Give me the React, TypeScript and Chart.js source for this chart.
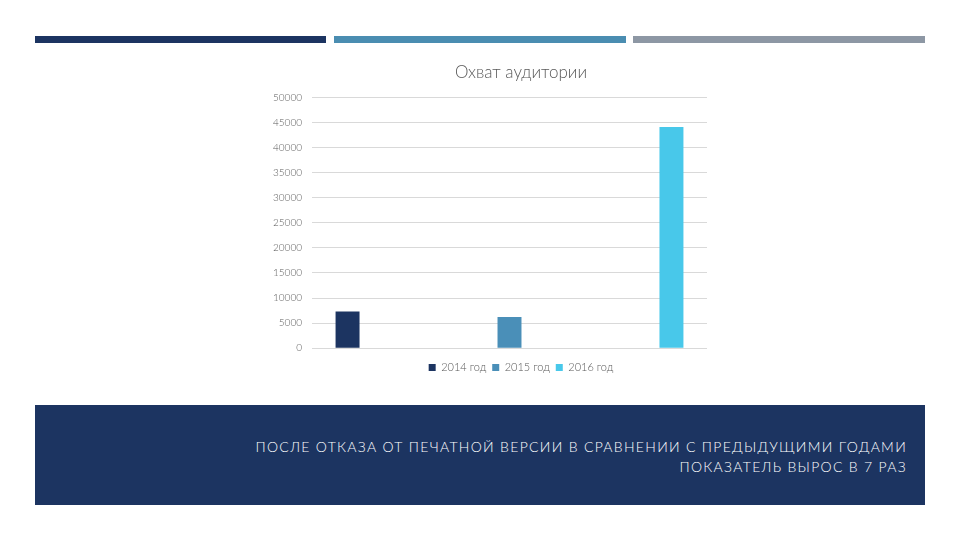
import React, { useEffect, useRef } from "react";
import { Chart, registerables } from "chart.js";

Chart.register(...registerables);

const chartTitle = "Охват аудитории";
const categories = [""];
const seriesNames = ["2014 год", "2015 год", "2016 год"];
const seriesValues = [7300, 6200, 44100];
const seriesColors = ["#1c3461", "#4a8fb8", "#48c8ea"];
const yTicks = { min: 0, max: 50000, step: 5000 };
const captionLines = [
  "ПОСЛЕ ОТКАЗА ОТ ПЕЧАТНОЙ ВЕРСИИ В СРАВНЕНИИ С ПРЕДЫДУЩИМИ ГОДАМИ",
  "ПОКАЗАТЕЛЬ ВЫРОС В 7 РАЗ",
];
const stripeColors = ["#1c3461", "#4a8db1", "#8d97a4"];

const FONT = "Lato, 'Open Sans', 'DejaVu Sans', sans-serif";

export default function App() {
  const ref = useRef<HTMLCanvasElement | null>(null);

  useEffect(() => {
    document.body.style.margin = "0";
    if (!ref.current) return;
    const chart = new Chart(ref.current, {
      type: "bar",
      data: {
        labels: categories,
        datasets: seriesNames.map((name, i) => ({
          label: name,
          data: [seriesValues[i]],
          backgroundColor: seriesColors[i],
          borderWidth: 0,
          categoryPercentage: 1.23,
          barPercentage: 0.148,
          yAxisID: "y",
        })),
      },
      options: {
        animation: false,
        responsive: false,
        maintainAspectRatio: false,
        layout: { padding: 0 },
        plugins: {
          title: {
            display: true,
            text: chartTitle,
            color: "#595959",
            font: { family: FONT, size: 17, weight: "300" as any },
            padding: { top: 7, bottom: 15 },
          },
          legend: {
            display: true,
            position: "bottom",
            title: {
              display: true,
              text: "",
              font: { family: FONT, size: 4 },
              padding: { top: 3, bottom: 0 },
            },
            labels: {
              boxWidth: 7,
              boxHeight: 7,
              color: "#595959",
              font: { family: FONT, size: 11, weight: "300" as any },
              padding: 6,
            },
          },
          tooltip: { enabled: false },
        },
        scales: {
          x: {
            display: false,
            grid: { display: false },
          },
          y: {
            position: "left",
            min: yTicks.min,
            max: yTicks.max,
            ticks: {
              stepSize: yTicks.step,
              color: "#595959",
              padding: 10,
              font: { family: FONT, size: 10, weight: "300" as any },
              callback: (v: any) => String(v),
            },
            border: { display: false },
            grid: { color: "#d9d9d9", drawTicks: false },
            afterFit: (scale: any) => {
              scale.width = 52;
            },
          },
          yRight: {
            position: "right",
            display: true,
            ticks: { display: false },
            grid: { display: false, drawOnChartArea: false, drawTicks: false },
            border: { display: false },
            afterFit: (scale: any) => {
              scale.width = 75;
            },
          },
        },
      },
    });
    return () => chart.destroy();
  }, []);

  return (
    <div
      style={{
        position: "relative",
        width: 960,
        height: 540,
        background: "#ffffff",
        overflow: "hidden",
        fontFamily: FONT,
      }}
    >
      {stripeColors.map((c, i) => {
        const lefts = [35, 334, 633];
        const rights = [326, 626, 925];
        return (
          <div
            key={i}
            style={{
              position: "absolute",
              left: lefts[i],
              top: 36,
              width: rights[i] - lefts[i],
              height: 7,
              background: c,
            }}
          />
        );
      })}
      <canvas
        ref={ref}
        width={522}
        height={328}
        style={{ position: "absolute", left: 260, top: 55, width: 522, height: 328 }}
      />
      <div
        style={{
          position: "absolute",
          left: 35,
          top: 405,
          width: 890,
          height: 100,
          background: "#1c3461",
        }}
      />
      <div
        style={{
          position: "absolute",
          right: 960 - 907,
          top: 437,
          textAlign: "right",
          color: "#ffffff",
          fontSize: 14,
          fontWeight: 300,
          letterSpacing: "1.3px",
          lineHeight: "20px",
          whiteSpace: "nowrap",
        }}
      >
        {captionLines.map((l, i) => (
          <div key={i}>{l}</div>
        ))}
      </div>
    </div>
  );
}
